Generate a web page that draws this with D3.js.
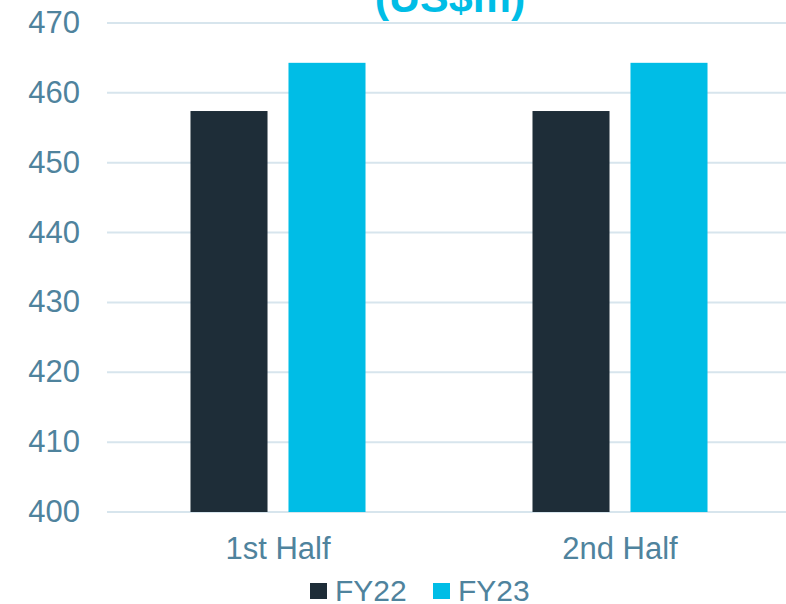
<!DOCTYPE html>
<html>
<head>
<meta charset="utf-8">
<script src="https://cdn.jsdelivr.net/npm/d3@7"></script>
<style>
  body { margin: 0; background: #fff; }
  text { font-family: "Liberation Sans", Arial, sans-serif; }
</style>
</head>
<body>
<svg id="chart" width="786" height="604"></svg>
<script>
const categories = ["1st Half", "2nd Half"];
const seriesNames = ["FY22", "FY23"];
const fy22 = [457.4, 457.4];
const fy23 = [464.3, 464.3];
const yTicks = [400, 410, 420, 430, 440, 450, 460, 470];
const colors = ["#1e2d38", "#00bde6"];
const labelColor = "#4f839d";

const width = 786, height = 604;
const margin = { top: 23, right: -5, bottom: 92, left: 107 };

const svg = d3.select("#chart");

const x = d3.scaleBand()
  .domain(categories)
  .range([margin.left, width - margin.right])
  .paddingInner(0)
  .paddingOuter(0);

const x1 = d3.scaleBand()
  .domain(seriesNames)
  .range([0, x.bandwidth()])
  .paddingInner(0.214)
  .paddingOuter(0.852);

const y = d3.scaleLinear()
  .domain([400, 470])
  .range([height - margin.bottom, margin.top]);

// gridlines
svg.append("g")
  .selectAll("line")
  .data(yTicks)
  .join("line")
  .attr("x1", margin.left)
  .attr("x2", width)
  .attr("y1", d => y(d))
  .attr("y2", d => y(d))
  .attr("stroke", "#d7e5ed")
  .attr("stroke-width", 2);

// y labels
svg.append("g")
  .selectAll("text")
  .data(yTicks)
  .join("text")
  .attr("x", 80)
  .attr("y", d => y(d) + 10)
  .attr("text-anchor", "end")
  .attr("fill", labelColor)
  .style("font-size", "31px")
  .text(d => d);

// bars
const rows = categories.map((c, i) => ({ cat: c, vals: [fy22[i], fy23[i]] }));
const groups = svg.append("g")
  .selectAll("g")
  .data(rows)
  .join("g")
  .attr("transform", d => `translate(${x(d.cat)},0)`);

groups.selectAll("rect")
  .data(d => d.vals.map((v, j) => ({ name: seriesNames[j], v, j })))
  .join("rect")
  .attr("x", d => x1(d.name))
  .attr("width", x1.bandwidth())
  .attr("y", d => y(d.v))
  .attr("height", d => y(400) - y(d.v))
  .attr("fill", d => colors[d.j]);

// category labels
svg.append("g")
  .selectAll("text")
  .data(categories)
  .join("text")
  .attr("x", d => x(d) + x.bandwidth() / 2)
  .attr("y", 559)
  .attr("text-anchor", "middle")
  .attr("fill", labelColor)
  .style("font-size", "31px")
  .text(d => d);

// title (cut off at top)
svg.append("text")
  .attr("x", 450)
  .attr("y", 12)
  .attr("text-anchor", "middle")
  .attr("fill", "#00bde6")
  .style("font-size", "43px")
  .style("font-weight", "bold")
  .text("(US$m)");

// legend
const legendItems = [
  { name: "FY22", x: 310 },
  { name: "FY23", x: 433 }
];
const lg = svg.append("g")
  .selectAll("g")
  .data(legendItems)
  .join("g")
  .attr("transform", d => `translate(${d.x},583)`);
lg.append("rect")
  .attr("width", 17)
  .attr("height", 16)
  .attr("fill", (d, i) => colors[i]);
lg.append("text")
  .attr("x", 25)
  .attr("y", 18)
  .attr("fill", labelColor)
  .style("font-size", "30px")
  .text(d => d.name);
</script>
</body>
</html>
